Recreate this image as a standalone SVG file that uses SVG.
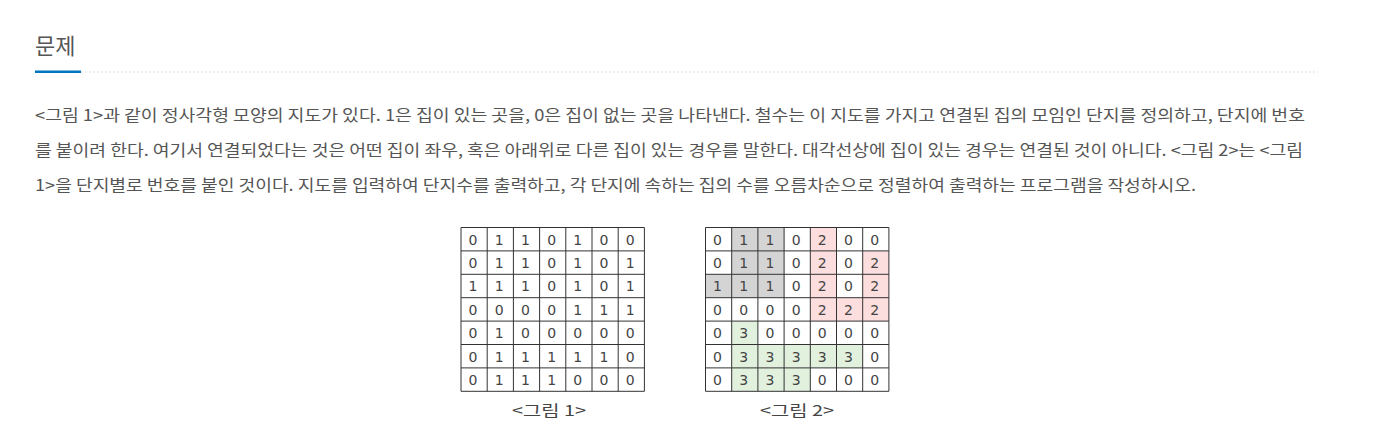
<svg xmlns="http://www.w3.org/2000/svg" width="1381" height="444" viewBox="0 0 1381 444">
<style>
.title{font-family:"Noto Sans CJK KR","Noto Sans",sans-serif;font-size:22px;fill:#555}
.body{font-family:"Noto Sans CJK KR","Noto Sans",sans-serif;font-size:16px;fill:#555}
.d{font-family:"DejaVu Sans","Liberation Sans",sans-serif;font-size:14px;fill:#444;text-anchor:middle}
.cap{font-family:"Noto Sans CJK KR",sans-serif;font-size:15px;fill:#444;text-anchor:middle}
.grid{fill:none;stroke:#333;stroke-width:1}
.g1{fill:#d4d4d4}.g2{fill:#fcdede}.g3{fill:#e2f1de}
</style>
<rect width="1381" height="444" fill="#fff"/>
<g id="header">
<text class="title" x="35" y="54">문제</text>
<line x1="81" y1="72" x2="1318" y2="72" stroke="#ddd" stroke-width="1" stroke-dasharray="2,2"/>
<rect x="35" y="70.5" width="46" height="2.5" fill="#0076c0"/>
</g>
<g id="description">
<text class="body" x="35" y="121" textLength="1270" lengthAdjust="spacingAndGlyphs">&lt;그림 1&gt;과 같이 정사각형 모양의 지도가 있다. 1은 집이 있는 곳을, 0은 집이 없는 곳을 나타낸다. 철수는 이 지도를 가지고 연결된 집의 모임인 단지를 정의하고, 단지에 번호</text>
<text class="body" x="35" y="156" textLength="1268" lengthAdjust="spacingAndGlyphs">를 붙이려 한다. 여기서 연결되었다는 것은 어떤 집이 좌우, 혹은 아래위로 다른 집이 있는 경우를 말한다. 대각선상에 집이 있는 경우는 연결된 것이 아니다. &lt;그림 2&gt;는 &lt;그림</text>
<text class="body" x="35" y="191" textLength="1161" lengthAdjust="spacingAndGlyphs">1&gt;을 단지별로 번호를 붙인 것이다. 지도를 입력하여 단지수를 출력하고, 각 단지에 속하는 집의 수를 오름차순으로 정렬하여 출력하는 프로그램을 작성하시오.</text>
</g>
<g id="figure1">
<path class="grid" d="M461 227.5H644.4M461 250.9H644.4M461 274.3H644.4M461 297.7H644.4M461 321.1H644.4M461 344.5H644.4M461 367.9H644.4M461 391.3H644.4M461 227.5V391.3M487.2 227.5V391.3M513.4 227.5V391.3M539.6 227.5V391.3M565.8 227.5V391.3M592 227.5V391.3M618.2 227.5V391.3M644.4 227.5V391.3"/>
<text class="d" x="473" y="244.5">0</text><text class="d" x="499.2" y="244.5">1</text><text class="d" x="525.4" y="244.5">1</text><text class="d" x="551.6" y="244.5">0</text><text class="d" x="577.8" y="244.5">1</text><text class="d" x="604" y="244.5">0</text><text class="d" x="630.2" y="244.5">0</text>
<text class="d" x="473" y="267.9">0</text><text class="d" x="499.2" y="267.9">1</text><text class="d" x="525.4" y="267.9">1</text><text class="d" x="551.6" y="267.9">0</text><text class="d" x="577.8" y="267.9">1</text><text class="d" x="604" y="267.9">0</text><text class="d" x="630.2" y="267.9">1</text>
<text class="d" x="473" y="291.3">1</text><text class="d" x="499.2" y="291.3">1</text><text class="d" x="525.4" y="291.3">1</text><text class="d" x="551.6" y="291.3">0</text><text class="d" x="577.8" y="291.3">1</text><text class="d" x="604" y="291.3">0</text><text class="d" x="630.2" y="291.3">1</text>
<text class="d" x="473" y="314.7">0</text><text class="d" x="499.2" y="314.7">0</text><text class="d" x="525.4" y="314.7">0</text><text class="d" x="551.6" y="314.7">0</text><text class="d" x="577.8" y="314.7">1</text><text class="d" x="604" y="314.7">1</text><text class="d" x="630.2" y="314.7">1</text>
<text class="d" x="473" y="338.1">0</text><text class="d" x="499.2" y="338.1">1</text><text class="d" x="525.4" y="338.1">0</text><text class="d" x="551.6" y="338.1">0</text><text class="d" x="577.8" y="338.1">0</text><text class="d" x="604" y="338.1">0</text><text class="d" x="630.2" y="338.1">0</text>
<text class="d" x="473" y="361.5">0</text><text class="d" x="499.2" y="361.5">1</text><text class="d" x="525.4" y="361.5">1</text><text class="d" x="551.6" y="361.5">1</text><text class="d" x="577.8" y="361.5">1</text><text class="d" x="604" y="361.5">1</text><text class="d" x="630.2" y="361.5">0</text>
<text class="d" x="473" y="384.9">0</text><text class="d" x="499.2" y="384.9">1</text><text class="d" x="525.4" y="384.9">1</text><text class="d" x="551.6" y="384.9">1</text><text class="d" x="577.8" y="384.9">0</text><text class="d" x="604" y="384.9">0</text><text class="d" x="630.2" y="384.9">0</text>
<text class="cap" x="549" y="416" textLength="74" lengthAdjust="spacingAndGlyphs">&lt;그림 1&gt;</text>
</g>
<g id="figure2">
<rect class="g1" x="731.7" y="227.5" width="52.4" height="46.8"/>
<rect class="g1" x="705.5" y="274.3" width="78.6" height="23.4"/>
<rect class="g2" x="810.3" y="227.5" width="26.2" height="93.6"/>
<rect class="g2" x="862.7" y="250.9" width="26.2" height="70.2"/>
<rect class="g2" x="836.5" y="297.7" width="26.2" height="23.4"/>
<rect class="g3" x="731.7" y="321.1" width="26.2" height="70.2"/>
<rect class="g3" x="757.9" y="344.5" width="104.8" height="23.4"/>
<rect class="g3" x="757.9" y="367.9" width="52.4" height="23.4"/>
<path class="grid" d="M705.5 227.5H888.9M705.5 250.9H888.9M705.5 274.3H888.9M705.5 297.7H888.9M705.5 321.1H888.9M705.5 344.5H888.9M705.5 367.9H888.9M705.5 391.3H888.9M705.5 227.5V391.3M731.7 227.5V391.3M757.9 227.5V391.3M784.1 227.5V391.3M810.3 227.5V391.3M836.5 227.5V391.3M862.7 227.5V391.3M888.9 227.5V391.3"/>
<text class="d" x="717.5" y="244.5">0</text><text class="d" x="743.7" y="244.5">1</text><text class="d" x="769.9" y="244.5">1</text><text class="d" x="796.1" y="244.5">0</text><text class="d" x="822.3" y="244.5">2</text><text class="d" x="848.5" y="244.5">0</text><text class="d" x="874.7" y="244.5">0</text>
<text class="d" x="717.5" y="267.9">0</text><text class="d" x="743.7" y="267.9">1</text><text class="d" x="769.9" y="267.9">1</text><text class="d" x="796.1" y="267.9">0</text><text class="d" x="822.3" y="267.9">2</text><text class="d" x="848.5" y="267.9">0</text><text class="d" x="874.7" y="267.9">2</text>
<text class="d" x="717.5" y="291.3">1</text><text class="d" x="743.7" y="291.3">1</text><text class="d" x="769.9" y="291.3">1</text><text class="d" x="796.1" y="291.3">0</text><text class="d" x="822.3" y="291.3">2</text><text class="d" x="848.5" y="291.3">0</text><text class="d" x="874.7" y="291.3">2</text>
<text class="d" x="717.5" y="314.7">0</text><text class="d" x="743.7" y="314.7">0</text><text class="d" x="769.9" y="314.7">0</text><text class="d" x="796.1" y="314.7">0</text><text class="d" x="822.3" y="314.7">2</text><text class="d" x="848.5" y="314.7">2</text><text class="d" x="874.7" y="314.7">2</text>
<text class="d" x="717.5" y="338.1">0</text><text class="d" x="743.7" y="338.1">3</text><text class="d" x="769.9" y="338.1">0</text><text class="d" x="796.1" y="338.1">0</text><text class="d" x="822.3" y="338.1">0</text><text class="d" x="848.5" y="338.1">0</text><text class="d" x="874.7" y="338.1">0</text>
<text class="d" x="717.5" y="361.5">0</text><text class="d" x="743.7" y="361.5">3</text><text class="d" x="769.9" y="361.5">3</text><text class="d" x="796.1" y="361.5">3</text><text class="d" x="822.3" y="361.5">3</text><text class="d" x="848.5" y="361.5">3</text><text class="d" x="874.7" y="361.5">0</text>
<text class="d" x="717.5" y="384.9">0</text><text class="d" x="743.7" y="384.9">3</text><text class="d" x="769.9" y="384.9">3</text><text class="d" x="796.1" y="384.9">3</text><text class="d" x="822.3" y="384.9">0</text><text class="d" x="848.5" y="384.9">0</text><text class="d" x="874.7" y="384.9">0</text>
<text class="cap" x="797" y="416" textLength="74" lengthAdjust="spacingAndGlyphs">&lt;그림 2&gt;</text>
</g>
</svg>
